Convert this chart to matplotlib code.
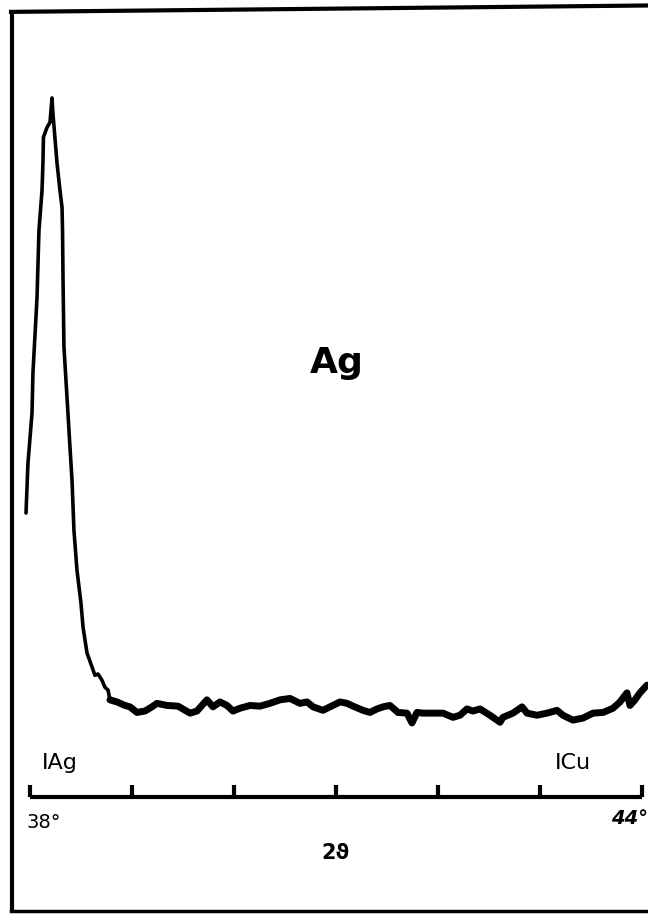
import matplotlib.pyplot as plt
import numpy as np

# diffractogram trace, 2-theta in degrees, intensity in arbitrary units
two_theta = [37.961, 37.980, 38.020, 38.029, 38.069, 38.088, 38.118, 38.127, 38.132,
             38.167, 38.196, 38.216, 38.225, 38.265, 38.294, 38.314, 38.319, 38.324,
             38.333, 38.363, 38.392, 38.412, 38.431, 38.461, 38.500, 38.520, 38.559,
             38.608, 38.637, 38.667, 38.706, 38.735, 38.765, 38.784, 38.853, 38.931,
             38.980, 39.049, 39.127, 39.196, 39.245, 39.343, 39.451, 39.569, 39.637,
             39.735, 39.794, 39.863, 39.931, 39.990, 40.059, 40.157, 40.255, 40.353,
             40.451, 40.549, 40.647, 40.716, 40.775, 40.873, 40.941, 41.039, 41.108,
             41.167, 41.265, 41.333, 41.402, 41.461, 41.529, 41.608, 41.696, 41.745,
             41.794, 41.853, 41.951, 42.049, 42.147, 42.216, 42.284, 42.343, 42.412,
             42.510, 42.608, 42.637, 42.735, 42.824, 42.873, 42.971, 43.069, 43.167,
             43.225, 43.324, 43.422, 43.520, 43.618, 43.716, 43.784, 43.853, 43.882,
             43.931, 43.980, 44.049]
intensity = [40.6, 47.7, 54.9, 60.6, 71.4, 81.0, 86.7, 90.6, 94.3,
             95.7, 96.4, 99.9, 97.7, 90.6, 86.7, 84.3, 81.0, 73.9,
             64.3, 57.1, 50.0, 45.3, 38.1, 32.4, 27.7, 24.3, 20.6,
             18.6, 17.4, 17.6, 16.7, 15.7, 15.3, 13.9, 13.6, 13.1,
             12.9, 12.1, 12.3, 12.9, 13.4, 13.1, 13.0, 12.0, 12.3,
             13.9, 12.9, 13.6, 13.1, 12.3, 12.7, 13.1, 13.0, 13.4,
             13.9, 14.1, 13.4, 13.6, 12.9, 12.4, 12.9, 13.6, 13.4,
             13.0, 12.4, 12.1, 12.6, 12.9, 13.1, 12.1, 12.0, 10.6,
             12.1, 12.0, 12.0, 12.0, 11.4, 11.7, 12.6, 12.3, 12.6,
             11.7, 10.7, 11.4, 12.0, 12.9, 12.0, 11.7, 12.0, 12.4,
             11.7, 11.0, 11.3, 12.0, 12.1, 12.7, 13.6, 14.9, 13.1,
             13.9, 14.9, 16.0]

tick_pos = [38, 39, 40, 41, 42, 43, 44]
markers = {"Ag": 38.12, "Cu": 43.15}

fig = plt.figure(figsize=(6.48, 9.14), dpi=100)
ax = fig.add_axes([0, 0, 1, 1])
ax.set_xlim(37.706, 44.059)
ax.set_ylim(-16.7, 113.9)
ax.axis('off')

# frame around the picture (open on the right)
ax.plot([0.019, 0.019], [0.003, 0.987], color='black', lw=3.0,
        transform=ax.transAxes, solid_capstyle='butt')
ax.plot([0.017, 1.0], [0.987, 0.994], color='black', lw=3.0, transform=ax.transAxes)
ax.plot([0.017, 1.0], [0.003, 0.003], color='black', lw=2.5, transform=ax.transAxes)

# trace: thin on the peak, thicker along the noisy background
split = 34
ax.plot(two_theta[:split], intensity[:split], color='black', lw=2.6,
        solid_joinstyle='round', solid_capstyle='round')
ax.plot(two_theta[split - 1:], intensity[split - 1:], color='black', lw=5.0,
        solid_joinstyle='round', solid_capstyle='round')

# hand-drawn 2-theta scale
ax.plot([tick_pos[0], tick_pos[-1]], [0, 0], color='black', lw=3.0, solid_capstyle='butt')
ax.vlines(tick_pos, 0, 1.7, color='black', lw=3.0)
ax.text(37.97, -2.2, "38°", fontsize=14, ha='left', va='top')
ax.text(44.055, -1.7, "44°", fontsize=14, ha='right', va='top', style='italic',
        fontweight='bold')
ax.text(41.0, -6.5, "2ϑ", fontsize=15, fontweight='bold', ha='center', va='top')

for name, pos in markers.items():
    ax.text(pos, 3.5, "I" + name, fontsize=16, ha='left', va='bottom')

ax.text(41.01, 62.0, "Ag", fontsize=26, fontweight='bold', ha='center', va='center')

fig.savefig("out.png", dpi=100)
